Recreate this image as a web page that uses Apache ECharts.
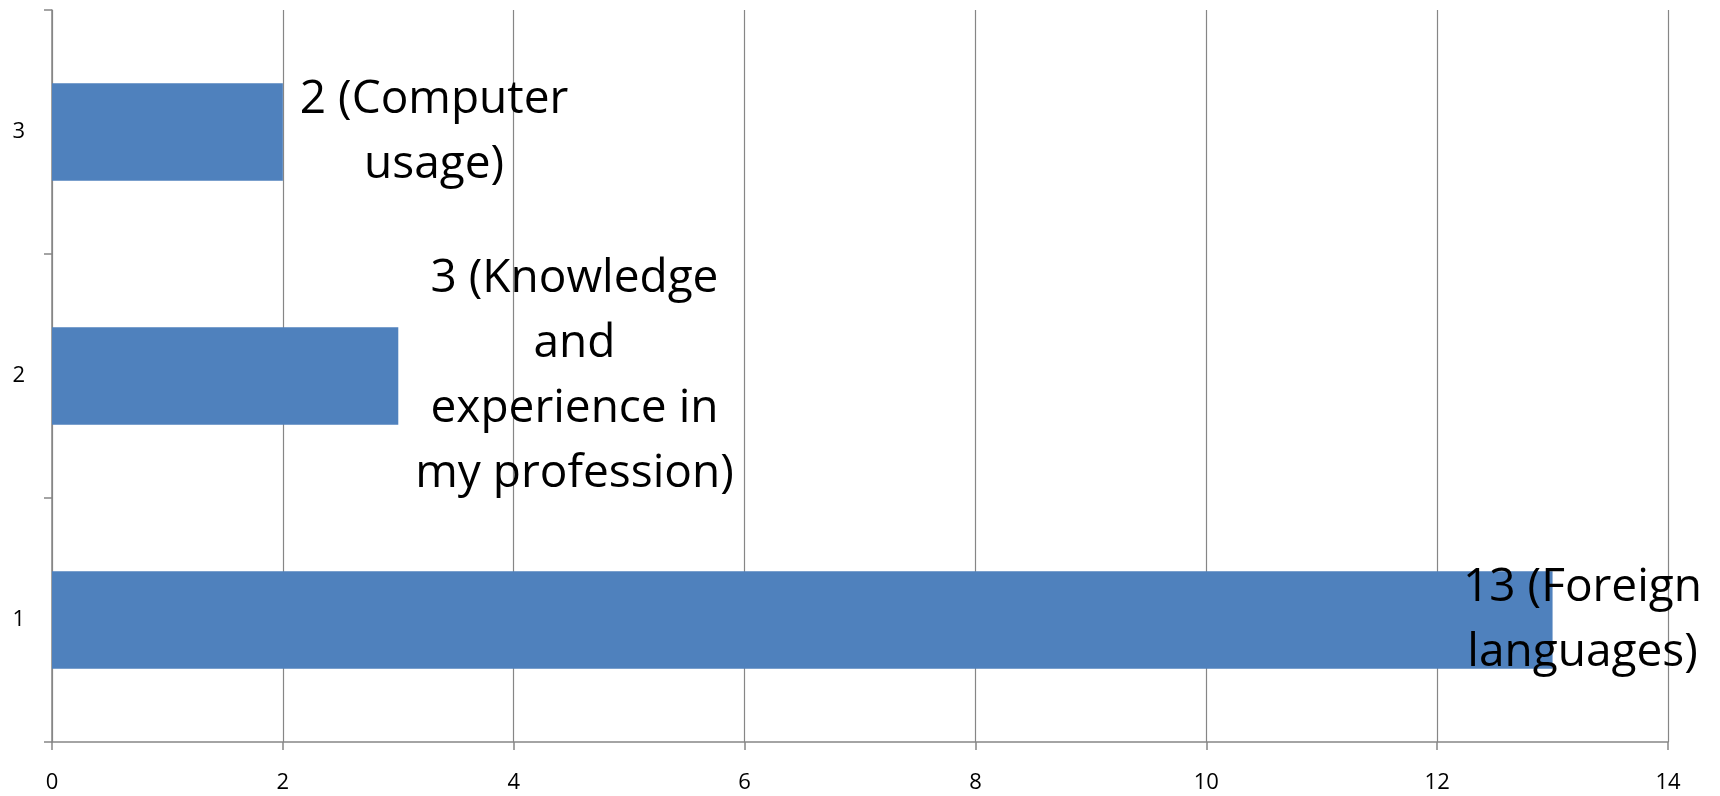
<!DOCTYPE html>
<html>
<head>
<meta charset="utf-8">
<script src="https://cdn.jsdelivr.net/npm/echarts@6/dist/echarts.min.js"></script>
<style>
  html, body { margin: 0; padding: 0; background: #fff; }
  #chart { width: 1720px; height: 796px; }
</style>
</head>
<body>
<div id="chart"></div>
<script>
const categories = ['1', '2', '3']
const values = [13, 3, 2]
const labelLines = [
  ['13 (Foreign', 'languages)'],
  ['3 (Knowledge', 'and', 'experience in', 'my profession)'],
  ['2 (Computer', 'usage)']
]
const xTicks = { min: 0, max: 14, interval: 2 }

const font = '"Open Sans", "Noto Sans", sans-serif'
const gray = '#868686'

const chart = echarts.init(document.getElementById('chart'))

chart.setOption({
  animation: false,
  grid: { left: 52, right: 52, top: 10, bottom: 54, containLabel: false },
  xAxis: {
    type: 'value',
    min: xTicks.min,
    max: xTicks.max,
    interval: xTicks.interval,
    axisLine: { show: true, lineStyle: { color: gray, width: 1.5 } },
    axisTick: { show: true, length: 8, lineStyle: { color: gray, width: 1.5 } },
    axisLabel: { margin: 30, color: '#000', fontSize: 22, fontFamily: font },
    splitLine: { show: true, lineStyle: { color: gray, width: 1.2 } }
  },
  yAxis: {
    type: 'category',
    data: categories,
    axisLine: { show: true, lineStyle: { color: gray, width: 1.5 } },
    axisTick: { show: true, length: 8, lineStyle: { color: gray, width: 1.5 } },
    axisLabel: { margin: 27, color: '#000', fontSize: 22, fontFamily: font },
    splitLine: { show: false }
  },
  series: [{
    type: 'bar',
    data: values,
    barCategoryGap: '60%',
    itemStyle: { color: '#4F81BD' },
    label: {
      show: true,
      position: 'right',
      distance: 17,
      formatter: p => labelLines[p.dataIndex].map(s => '{c|' + s + '}').join('\n'),
      rich: {
        c: { align: 'center', color: '#000', fontSize: 46, lineHeight: 65, fontFamily: font }
      }
    },
    // keep labels inside the chart area, like the original
    labelLayout: params => {
      const r = params.labelRect
      const limit = chart.getWidth() - 18
      return {
        x: Math.min(r.x, limit - r.width),
        y: r.y + r.height / 2,
        align: 'left',
        verticalAlign: 'middle'
      }
    }
  }]
})
</script>
</body>
</html>
